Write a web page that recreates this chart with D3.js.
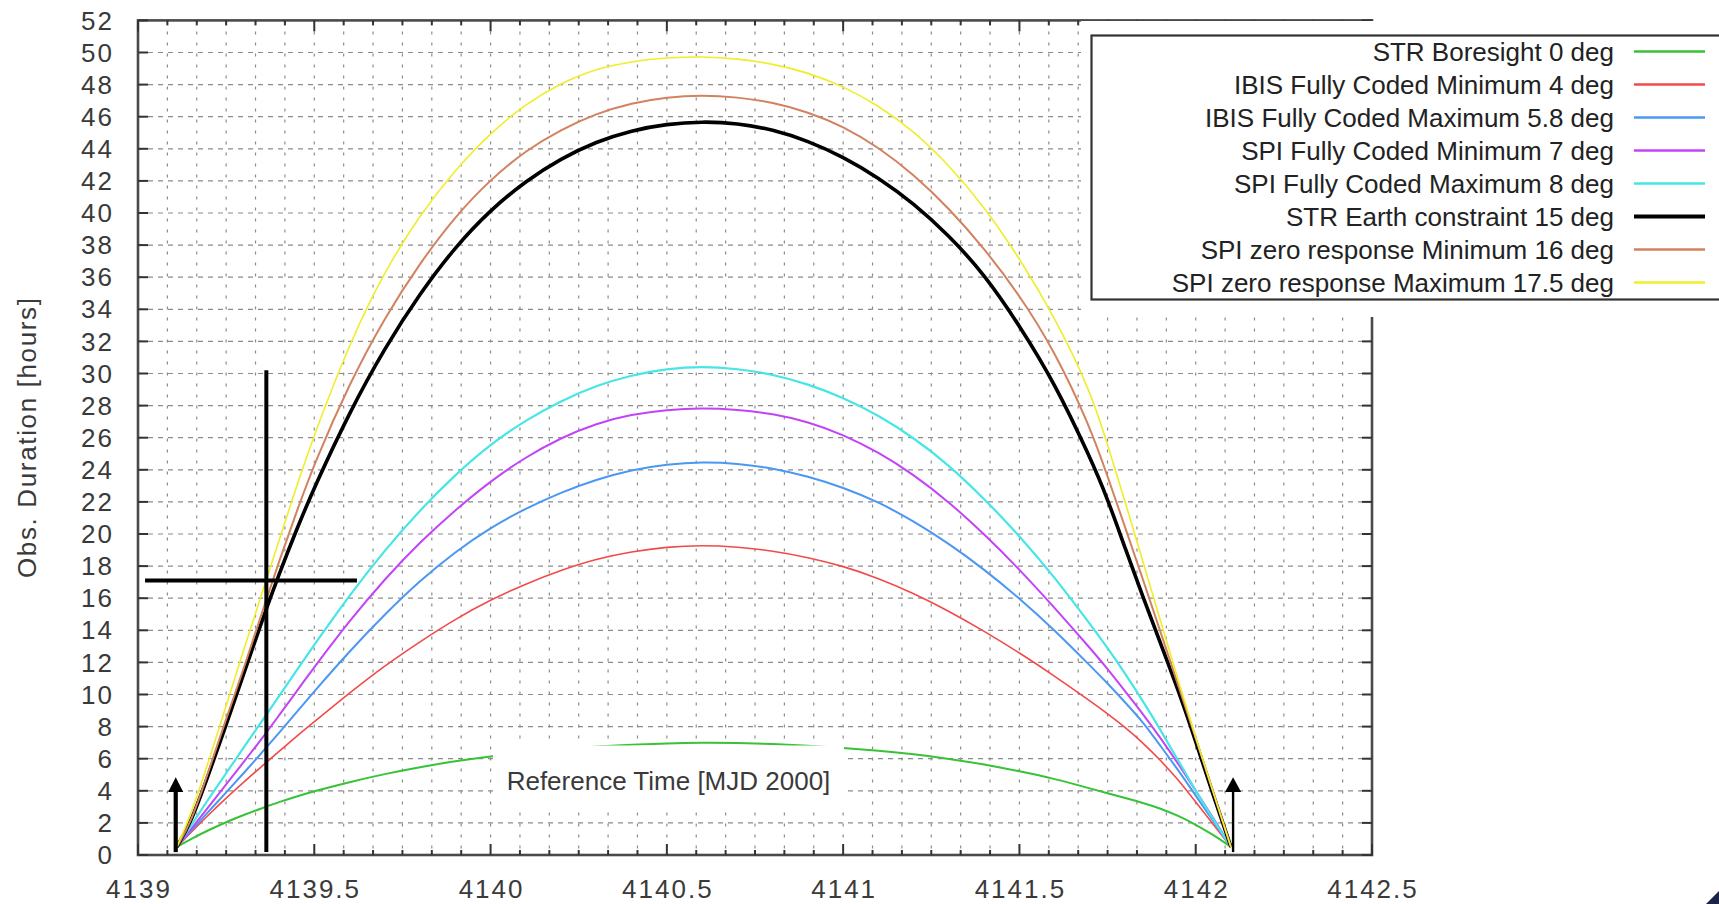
<!DOCTYPE html>
<html lang="en">
<head>
<meta charset="utf-8">
<title>Obs. Duration</title>
<script src="https://cdn.jsdelivr.net/npm/d3@7"></script>
<style>
  body { margin: 0; background: #fff; }
  svg { display: block; font-family: "Liberation Sans", Arial, sans-serif; }
</style>
</head>
<body>
<svg id="chart" width="1719" height="904"></svg>
<script>
// reference time (MJD 2000), shared by all series
const refTime = [4139.11, 4139.15, 4139.2, 4139.25, 4139.3, 4139.35, 4139.4, 4139.45, 4139.5, 4139.6,
  4139.7, 4139.8, 4139.9, 4140.0, 4140.1, 4140.2, 4140.3, 4140.4, 4140.5, 4140.6,
  4140.7, 4140.8, 4140.9, 4141.0, 4141.1, 4141.2, 4141.3, 4141.4, 4141.5, 4141.6,
  4141.7, 4141.75, 4141.8, 4141.85, 4141.9, 4141.95, 4142.0, 4142.05, 4142.1];

// obs. duration [hours]
const strBoresight = [0.5, 1.0, 1.55, 2.05, 2.5, 2.9, 3.3, 3.65, 3.98, 4.55,
  5.05, 5.48, 5.85, 6.15, 6.4, 6.6, 6.76, 6.88, 6.96, 7.0,
  6.98, 6.92, 6.82, 6.68, 6.5, 6.28, 6.0, 5.65, 5.22, 4.75,
  4.15, 3.85, 3.55, 3.25, 2.9, 2.45, 1.9, 1.25, 0.5];
const ibisMin = [0.5, 1.4, 2.5, 3.55, 4.55, 5.5, 6.45, 7.4, 8.3, 10.1,
  11.8, 13.3, 14.7, 15.9, 16.9, 17.75, 18.45, 18.9, 19.2, 19.3,
  19.2, 18.95, 18.55, 18.0, 17.25, 16.3, 15.2, 13.95, 12.6, 11.15,
  9.6, 8.8, 7.95, 7.0, 5.9, 4.7, 3.3, 1.9, 0.5];
const ibisMax = [0.5, 1.5, 2.7, 3.9, 5.1, 6.35, 7.6, 8.9, 10.2, 12.7,
  15.0, 17.1, 18.9, 20.4, 21.6, 22.6, 23.4, 24.0, 24.35, 24.5,
  24.4, 24.1, 23.6, 22.9, 22.0, 20.8, 19.4, 17.8, 16.0, 14.0,
  11.8, 10.7, 9.5, 8.3, 6.8, 5.3, 3.7, 2.1, 0.5];
const spiMin = [0.5, 1.6, 3.0, 4.4, 5.8, 7.2, 8.7, 10.2, 11.7, 14.6,
  17.2, 19.5, 21.5, 23.3, 24.8, 26.0, 26.9, 27.45, 27.75, 27.85,
  27.75, 27.5, 27.0, 26.2, 25.1, 23.7, 22.0, 20.0, 17.8, 15.4,
  12.9, 11.6, 10.2, 8.8, 7.3, 5.7, 4.0, 2.3, 0.5];
const spiMax = [0.5, 1.8, 3.5, 5.1, 6.7, 8.3, 9.9, 11.5, 13.1, 16.2,
  19.0, 21.5, 23.7, 25.6, 27.1, 28.3, 29.25, 29.9, 30.3, 30.45,
  30.3, 29.95, 29.35, 28.5, 27.4, 26.0, 24.3, 22.2, 19.9, 17.3,
  14.4, 12.9, 11.3, 9.6, 7.8, 5.9, 4.0, 2.2, 0.5];
const strEarth = [0.5, 2.0, 5.0, 8.1, 11.3, 14.5, 17.5, 20.3, 22.9, 27.6,
  31.6, 35.0, 37.9, 40.2, 42.0, 43.4, 44.45, 45.15, 45.55, 45.7,
  45.6, 45.2, 44.5, 43.5, 42.2, 40.6, 38.6, 36.2, 33.0, 29.4,
  24.8, 22.2, 19.1, 16.1, 13.2, 10.3, 7.1, 3.7, 0.5];
const spiZeroMin = [0.5, 2.0, 5.2, 8.5, 11.6, 15.0, 18.3, 21.4, 24.4, 29.4,
  33.5, 36.9, 39.8, 42.1, 43.9, 45.2, 46.2, 46.85, 47.22, 47.35,
  47.22, 46.9, 46.3, 45.4, 44.1, 42.4, 40.3, 37.8, 34.9, 31.4,
  26.7, 23.6, 20.4, 17.2, 13.9, 10.6, 7.3, 3.9, 0.5];
const spiZeroMax = [0.5, 2.5, 5.8, 9.3, 12.8, 16.2, 19.6, 23.0, 26.2, 31.9,
  36.4, 39.9, 42.7, 45.0, 46.8, 48.1, 49.0, 49.45, 49.68, 49.75,
  49.62, 49.3, 48.75, 47.9, 46.7, 45.1, 43.0, 40.4, 37.2, 33.5,
  29.0, 25.6, 22.0, 18.3, 14.6, 10.9, 7.3, 3.9, 0.5];

const seriesNames = ["STR Boresight 0 deg", "IBIS Fully Coded Minimum 4 deg",
  "IBIS Fully Coded Maximum 5.8 deg", "SPI Fully Coded Minimum 7 deg",
  "SPI Fully Coded Maximum 8 deg", "STR Earth constraint 15 deg",
  "SPI zero response Minimum 16 deg", "SPI zero response Maximum 17.5 deg"];
const seriesValues = [strBoresight, ibisMin, ibisMax, spiMin, spiMax, strEarth, spiZeroMin, spiZeroMax];
const seriesColors = ["#38c238", "#f24a4a", "#4a98f2", "#c244f6", "#46e6e6", "#000000", "#d3825f", "#eeee2a"];
const seriesWidths = [2, 1.6, 2, 2, 2.2, 3.6, 2, 1.6];

const xMajorTicks = [4139, 4139.5, 4140, 4140.5, 4141, 4141.5, 4142, 4142.5];
const yTicks = d3.range(0, 53, 2);
const xMinorStep = 1 / 12;   // 2 hours

const svg = d3.select("#chart");
const pLeft = 138, pRight = 1372, pTop = 20.4, pBottom = 855;

const x = d3.scaleLinear().domain([4139, 4142.5]).range([pLeft, pRight]);
const y = d3.scaleLinear().domain([0, 52]).range([pBottom, pTop]);

const xMinor = d3.range(0, 43).map(i => 4139 + i * xMinorStep);

// grid
const grid = svg.append("g");
grid.selectAll("line.v").data(xMinor.slice(1, -1)).join("line")
  .attr("x1", d => x(d)).attr("x2", d => x(d))
  .attr("y1", pTop).attr("y2", pBottom)
  .attr("stroke", "#8c8c8c").attr("stroke-width", 1.2)
  .attr("stroke-dasharray", "3,8");
grid.selectAll("line.h").data(yTicks.slice(1, -1)).join("line")
  .attr("x1", pLeft).attr("x2", pRight)
  .attr("y1", d => y(d)).attr("y2", d => y(d))
  .attr("stroke", "#8c8c8c").attr("stroke-width", 1.2)
  .attr("stroke-dasharray", "5,5");

// curves
const line = d3.line()
  .x((d, i) => x(refTime[i]))
  .y(d => y(d))
  .curve(d3.curveBasis);

svg.append("g").selectAll("path").data(seriesValues).join("path")
  .attr("d", d => line(d))
  .attr("fill", "none")
  .attr("stroke", (d, i) => seriesColors[i])
  .attr("stroke-width", (d, i) => seriesWidths[i])
  .attr("stroke-linejoin", "round");

// frame + ticks
svg.append("rect")
  .attr("x", pLeft).attr("y", pTop).attr("width", pRight - pLeft).attr("height", pBottom - pTop)
  .attr("fill", "none").attr("stroke", "#4a4a4a").attr("stroke-width", 2.6);

const ticks = svg.append("g").attr("stroke", "#333").attr("stroke-width", 2);
ticks.selectAll("line.yl").data(yTicks).join("line")
  .attr("x1", pLeft).attr("x2", pLeft + 10).attr("y1", d => y(d)).attr("y2", d => y(d));
ticks.selectAll("line.yr").data(yTicks).join("line")
  .attr("x1", pRight - 10).attr("x2", pRight).attr("y1", d => y(d)).attr("y2", d => y(d));
ticks.selectAll("line.xb").data(xMinor).join("line")
  .attr("x1", d => x(d)).attr("x2", d => x(d))
  .attr("y1", pBottom).attr("y2", (d, i) => pBottom - (i % 6 === 0 ? 11 : 5));
ticks.selectAll("line.xt").data(xMinor).join("line")
  .attr("x1", d => x(d)).attr("x2", d => x(d))
  .attr("y1", pTop).attr("y2", (d, i) => pTop + (i % 6 === 0 ? 11 : 5));

// tick labels
svg.append("g").selectAll("text").data(yTicks).join("text")
  .attr("x", 114).attr("y", d => y(d)).attr("dy", "0.35em")
  .attr("text-anchor", "end")
  .attr("font-size", 26).attr("letter-spacing", 2).attr("fill", "#3a3a3a")
  .text(d => d);
svg.append("g").selectAll("text").data(xMajorTicks).join("text")
  .attr("x", d => x(d) + 1).attr("y", 889).attr("dy", "0.35em")
  .attr("text-anchor", "middle")
  .attr("font-size", 26).attr("letter-spacing", 2).attr("fill", "#3a3a3a")
  .text(d => String(d));

// axis label
svg.append("text")
  .attr("transform", "translate(27,438) rotate(-90)")
  .attr("dy", "0.35em").attr("text-anchor", "middle")
  .attr("font-size", 26).attr("fill", "#3a3a3a")
  .attr("textLength", 280).attr("lengthAdjust", "spacing")
  .text("Obs. Duration [hours]");

// annotations: crosshair and arrows
const ann = svg.append("g").attr("fill", "#000").attr("stroke", "#000");
ann.append("line")
  .attr("x1", x(4139.364)).attr("x2", x(4139.364))
  .attr("y1", y(30.2)).attr("y2", y(0.18)).attr("stroke-width", 4);
ann.append("line")
  .attr("x1", x(4139.02)).attr("x2", x(4139.621))
  .attr("y1", y(17.1)).attr("y2", y(17.1)).attr("stroke-width", 4);

function arrow(t, shaftW, headW) {
  const cx = x(t), base = y(3.93), tip = y(4.85);
  ann.append("line").attr("x1", cx).attr("x2", cx)
    .attr("y1", y(0.18)).attr("y2", base).attr("stroke-width", shaftW);
  ann.append("path").attr("stroke", "none")
    .attr("d", `M${cx - headW / 2},${base}L${cx},${tip}L${cx + headW / 2},${base}Z`);
}
arrow(4139.107, 4.2, 15);
arrow(4142.106, 2.4, 16);

// x label sitting in a white box inside the plot
svg.append("rect").attr("x", 493).attr("y", 745.5).attr("width", 351).attr("height", 61).attr("fill", "#fff");
svg.append("text")
  .attr("x", 668.5).attr("y", 781).attr("dy", "0.35em").attr("text-anchor", "middle")
  .attr("font-size", 26).attr("fill", "#3a3a3a")
  .text("Reference Time [MJD 2000]");

// legend pasted over the top right corner
svg.append("rect").attr("x", 1081).attr("y", 21).attr("width", 640).attr("height", 296).attr("fill", "#fff");
svg.append("rect").attr("x", 1091.5).attr("y", 35.5).attr("width", 640).attr("height", 264)
  .attr("fill", "#fff").attr("stroke", "#333").attr("stroke-width", 2.2);

const legend = svg.append("g").selectAll("g").data(seriesNames).join("g")
  .attr("transform", (d, i) => `translate(0,${51.5 + i * 33})`);
legend.append("text")
  .attr("x", 1614).attr("dy", "0.35em").attr("text-anchor", "end")
  .attr("font-size", 26).attr("fill", "#222")
  .text(d => d);
legend.append("line")
  .attr("x1", 1634).attr("x2", 1705)
  .attr("stroke", (d, i) => seriesColors[i])
  .attr("stroke-width", (d, i) => i === 5 ? 4 : 2.4);

// corner mark
svg.append("path").attr("d", "M1706,904L1719,891L1719,904Z").attr("fill", "#1b2346");
</script>
</body>
</html>
